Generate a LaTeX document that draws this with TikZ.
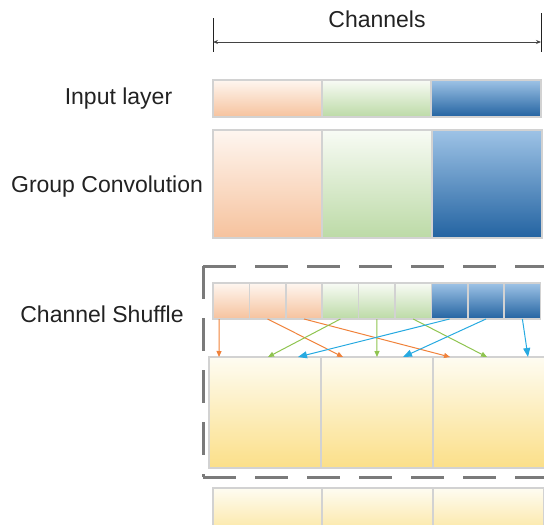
\documentclass[tikz,border=0pt]{standalone}
\usepackage{fontspec}
\setmainfont{Liberation Sans}
\usepackage{xcolor}
\usetikzlibrary{arrows.meta,positioning}
\definecolor{Ink}{HTML}{222222}
\definecolor{Rim}{HTML}{D2D2D2}
\definecolor{Frame}{HTML}{7A7A7A}
\definecolor{OrangeTop}{HTML}{FEF6F0}
\definecolor{OrangeMid}{HTML}{F9D4BA}
\definecolor{OrangeBot}{HTML}{F6C29D}
\definecolor{GreenTop}{HTML}{F8FBF5}
\definecolor{GreenMid}{HTML}{D3E8C5}
\definecolor{GreenBot}{HTML}{BCDAA6}
\definecolor{BlueTop}{HTML}{9EC3E6}
\definecolor{BlueMid}{HTML}{6C98C8}
\definecolor{BlueBot}{HTML}{2363A1}
\definecolor{YellowTop}{HTML}{FEFCF2}
\definecolor{YellowMid}{HTML}{FDEDBA}
\definecolor{YellowBot}{HTML}{FBDF88}
\definecolor{OrangeArr}{HTML}{F0823A}
\definecolor{GreenArr}{HTML}{8FC450}
\definecolor{BlueArr}{HTML}{27AAE1}
\tikzset{
  seg/.style={draw=Rim,line width=1.5pt,inner sep=0pt,outer sep=0pt},
  orangeseg/.style={seg,top color=OrangeTop,middle color=OrangeMid,bottom color=OrangeBot},
  greenseg/.style={seg,top color=GreenTop,middle color=GreenMid,bottom color=GreenBot},
  blueseg/.style={seg,top color=BlueTop,middle color=BlueMid,bottom color=BlueBot},
  yellowseg/.style={seg,top color=YellowTop,middle color=YellowMid,bottom color=YellowBot},
  lbl/.style={font=\fontsize{23}{27}\selectfont,text=Ink,anchor=base,inner sep=0pt},
  dim/.style={{Stealth[length=5pt,width=4pt]}-{Stealth[length=5pt,width=4pt]},draw=Ink!85,line width=1pt},
  tick/.style={draw=Ink,line width=1pt},
  frame/.style={draw=Frame,line width=3pt,dash pattern=on 33pt off 19pt},
  oarr/.style={-{Triangle[length=6pt,width=5pt]},draw=OrangeArr,line width=1pt},
  garr/.style={-{Triangle[length=6pt,width=5pt]},draw=GreenArr,line width=1pt},
  barr/.style={-{Triangle[length=9pt,width=7pt]},draw=BlueArr,line width=1pt}
}

\begin{document}
\begin{tikzpicture}[x=1pt,y=-1pt]
  \useasboundingbox (0,0) rectangle (544,525);
  \clip (0,0) rectangle (544,525);

  % channel width
  \node[lbl] (chan) at (377,27) {Channels};
  \coordinate (dl) at (213,42);
  \coordinate (dr) at (541,42);
  \draw[tick] (213,18) -- (213,52);
  \draw[tick] (541,13) -- (541,52);
  \draw[dim] (dl) -- (dr);

  % input layer
  \node[lbl] (inlbl) at (118.5,104) {Input layer};
  \node[orangeseg,minimum width=109pt,minimum height=37pt,anchor=north west] (in1) at (213,80) {};
  \node[greenseg,minimum width=109pt,minimum height=37pt,right=0pt of in1] (in2) {};
  \node[blueseg,minimum width=110pt,minimum height=37pt,right=0pt of in2] (in3) {};

  % group convolution
  \node[lbl] (gclbl) at (107,192) {Group Convolution};
  \node[orangeseg,minimum width=109pt,minimum height=108pt,anchor=north west] (gc1) at (213,130) {};
  \node[greenseg,minimum width=110pt,minimum height=108pt,right=0pt of gc1] (gc2) {};
  \node[blueseg,minimum width=110pt,minimum height=108pt,right=0pt of gc2] (gc3) {};

  % channel shuffle
  \draw[frame] (203,266) -- (560,266);
  \draw[frame] (203,266) -- (203,477);
  \draw[frame] (203,477) -- (560,477);
  \node[lbl] (cslbl) at (102,322) {Channel Shuffle};
  \node[orangeseg,minimum width=36.4pt,minimum height=36pt,anchor=north west] (sh1) at (213,283) {};
  \node[orangeseg,minimum width=36.4pt,minimum height=36pt,right=0pt of sh1] (sh2) {};
  \node[orangeseg,minimum width=36.4pt,minimum height=36pt,right=0pt of sh2] (sh3) {};
  \node[greenseg,minimum width=36.4pt,minimum height=36pt,right=0pt of sh3] (sh4) {};
  \node[greenseg,minimum width=36.4pt,minimum height=36pt,right=0pt of sh4] (sh5) {};
  \node[greenseg,minimum width=36.4pt,minimum height=36pt,right=0pt of sh5] (sh6) {};
  \node[blueseg,minimum width=36.4pt,minimum height=36pt,right=0pt of sh6] (sh7) {};
  \node[blueseg,minimum width=36.4pt,minimum height=36pt,right=0pt of sh7] (sh8) {};
  \node[blueseg,minimum width=36.4pt,minimum height=36pt,right=0pt of sh8] (sh9) {};

  \node[yellowseg,minimum width=112pt,minimum height=111pt,anchor=north west] (out1) at (209,357) {};
  \node[yellowseg,minimum width=112pt,minimum height=111pt,right=0pt of out1] (out2) {};
  \node[yellowseg,minimum width=112pt,minimum height=111pt,right=0pt of out2] (out3) {};

  \coordinate (t1) at (219,357);
  \coordinate (t2) at (268,357);
  \coordinate (t3) at (298,357);
  \coordinate (t4) at (343,357);
  \coordinate (t5) at (377,357);
  \coordinate (t6) at (403,357);
  \coordinate (t7) at (450,357);
  \coordinate (t8) at (487,357);
  \coordinate (t9) at (528,357);
  \draw[oarr] ([xshift=-12pt]sh1.south) -- (t1);
  \draw[oarr] (sh2.south) -- (t4);
  \draw[oarr] (sh3.south) -- (t7);
  \draw[garr] (sh4.south) -- (t2);
  \draw[garr] (sh5.south) -- (t5);
  \draw[garr] (sh6.south) -- (t8);
  \draw[barr] (sh7.south) -- (t3);
  \draw[barr] (sh8.south) -- (t6);
  \draw[barr] (sh9.south) -- (t9);

  % next layer
  \node[yellowseg,minimum width=109pt,minimum height=60pt,anchor=north west] (nx1) at (213,488) {};
  \node[yellowseg,minimum width=111pt,minimum height=60pt,right=0pt of nx1] (nx2) {};
  \node[yellowseg,minimum width=111pt,minimum height=60pt,right=0pt of nx2] (nx3) {};
\end{tikzpicture}
\end{document}
